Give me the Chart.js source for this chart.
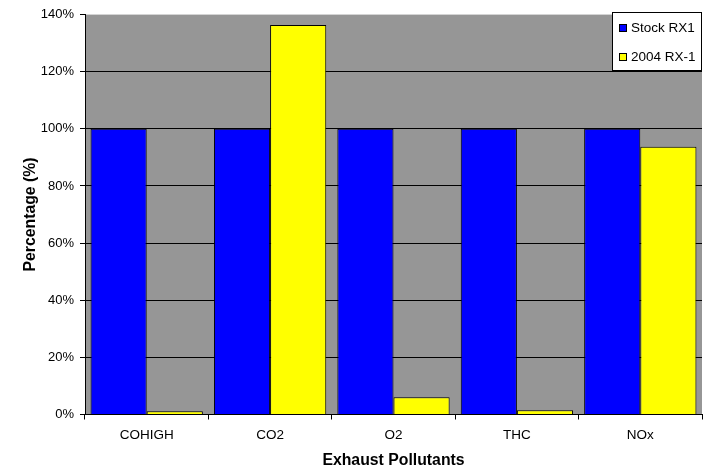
<!DOCTYPE html>
<html>
<head>
<meta charset="utf-8">
<script src="https://cdn.jsdelivr.net/npm/chart.js@4.4.1/dist/chart.umd.min.js"></script>
<style>
  html, body { margin: 0; padding: 0; background: #ffffff; }
  #wrap { width: 709px; height: 471px; position: relative; }
</style>
</head>
<body>
<div id="wrap"><canvas id="chart" width="709" height="471"></canvas></div>
<script>
// Exhaust pollutant levels, relative to the stock engine (%)
const categories = ['COHIGH', 'CO2', 'O2', 'THC', 'NOx'];
const seriesNames = ['Stock RX1', '2004 RX-1'];
const stockRX1 = [100, 100, 100, 100, 100];
const rx1_2004 = [1.1, 136.3, 6.0, 1.5, 93.7];
const yTicks = [0, 20, 40, 60, 80, 100, 120, 140];

const FONT = "'Liberation Sans', Arial, sans-serif";

// Grey plot-area background
const plotBackground = {
  id: 'plotBackground',
  beforeDraw(chart) {
    const { ctx, chartArea: a } = chart;
    ctx.save();
    ctx.fillStyle = '#969696';
    ctx.fillRect(a.left, a.top, a.right - a.left, a.bottom - a.top);
    ctx.restore();
  }
};

// Boxed legend in the top-right corner
const boxLegend = {
  id: 'boxLegend',
  afterDraw(chart) {
    const { ctx } = chart;
    const x = 612.5, y = 12.5, w = 89, h = 58;
    ctx.save();
    ctx.fillStyle = '#ffffff';
    ctx.fillRect(x, y, w, h);
    ctx.strokeStyle = '#000000';
    ctx.lineWidth = 1;
    ctx.strokeRect(x, y, w, h);
    ctx.font = '13.5px ' + FONT;
    ctx.textBaseline = 'middle';
    ctx.textAlign = 'left';
    chart.data.datasets.forEach((ds, i) => {
      const cy = 28 + i * 29;
      ctx.fillStyle = ds.backgroundColor;
      ctx.fillRect(619.5, cy - 3.5, 7, 7);
      ctx.strokeStyle = '#000000';
      ctx.strokeRect(619.5, cy - 3.5, 7, 7);
      ctx.fillStyle = '#000000';
      ctx.fillText(ds.label, 631, cy + 0.5);
    });
    ctx.restore();
  }
};

new Chart(document.getElementById('chart'), {
  type: 'bar',
  data: {
    labels: categories,
    datasets: [
      { label: seriesNames[0], data: stockRX1, backgroundColor: '#0000FF', borderColor: '#000000', borderWidth: 1 },
      { label: seriesNames[1], data: rx1_2004, backgroundColor: '#FFFF00', borderColor: '#000000', borderWidth: 1 }
    ]
  },
  options: {
    responsive: false,
    animation: false,
    devicePixelRatio: 1,
    layout: { padding: { top: 14.5, right: 7, bottom: 0, left: 0 } },
    datasets: { bar: { categoryPercentage: 0.91, barPercentage: 1.0 } },
    plugins: { legend: { display: false }, tooltip: { enabled: false } },
    scales: {
      x: {
        grid: { drawOnChartArea: false, color: '#000000', tickLength: 5, tickColor: '#000000' },
        border: { color: '#000000', width: 1 },
        ticks: { color: '#000000', font: { family: FONT, size: 13.5 }, padding: 8 },
        title: { display: true, text: 'Exhaust Pollutants', color: '#000000',
                 font: { family: FONT, size: 15.8, weight: 'bold', lineHeight: 1.2 },
                 padding: { top: 0, bottom: 0.5 } },
        afterFit(scale) { scale.height = 56.5; }
      },
      y: {
        min: 0, max: 140,
        afterBuildTicks(scale) { scale.ticks = yTicks.map(v => ({ value: v })); },
        grid: {
          color: ctx => (ctx.tick && ctx.tick.value === 140 ? '#d4d4d4' : '#000000'),
          tickColor: '#000000',
          lineWidth: 1, tickLength: 5
        },
        border: { color: '#000000', width: 1 },
        ticks: { color: '#000000', font: { family: FONT, size: 13 }, padding: 6,
                 callback: v => v + '%' },
        title: { display: true, text: 'Percentage (%)', color: '#000000',
                 font: { family: FONT, size: 15.8, weight: 'bold', lineHeight: 1.2 },
                 padding: { top: 21.5, bottom: 0 } },
        afterFit(scale) { scale.width = 85; }
      }
    }
  },
  plugins: [plotBackground, boxLegend]
});
</script>
</body>
</html>
